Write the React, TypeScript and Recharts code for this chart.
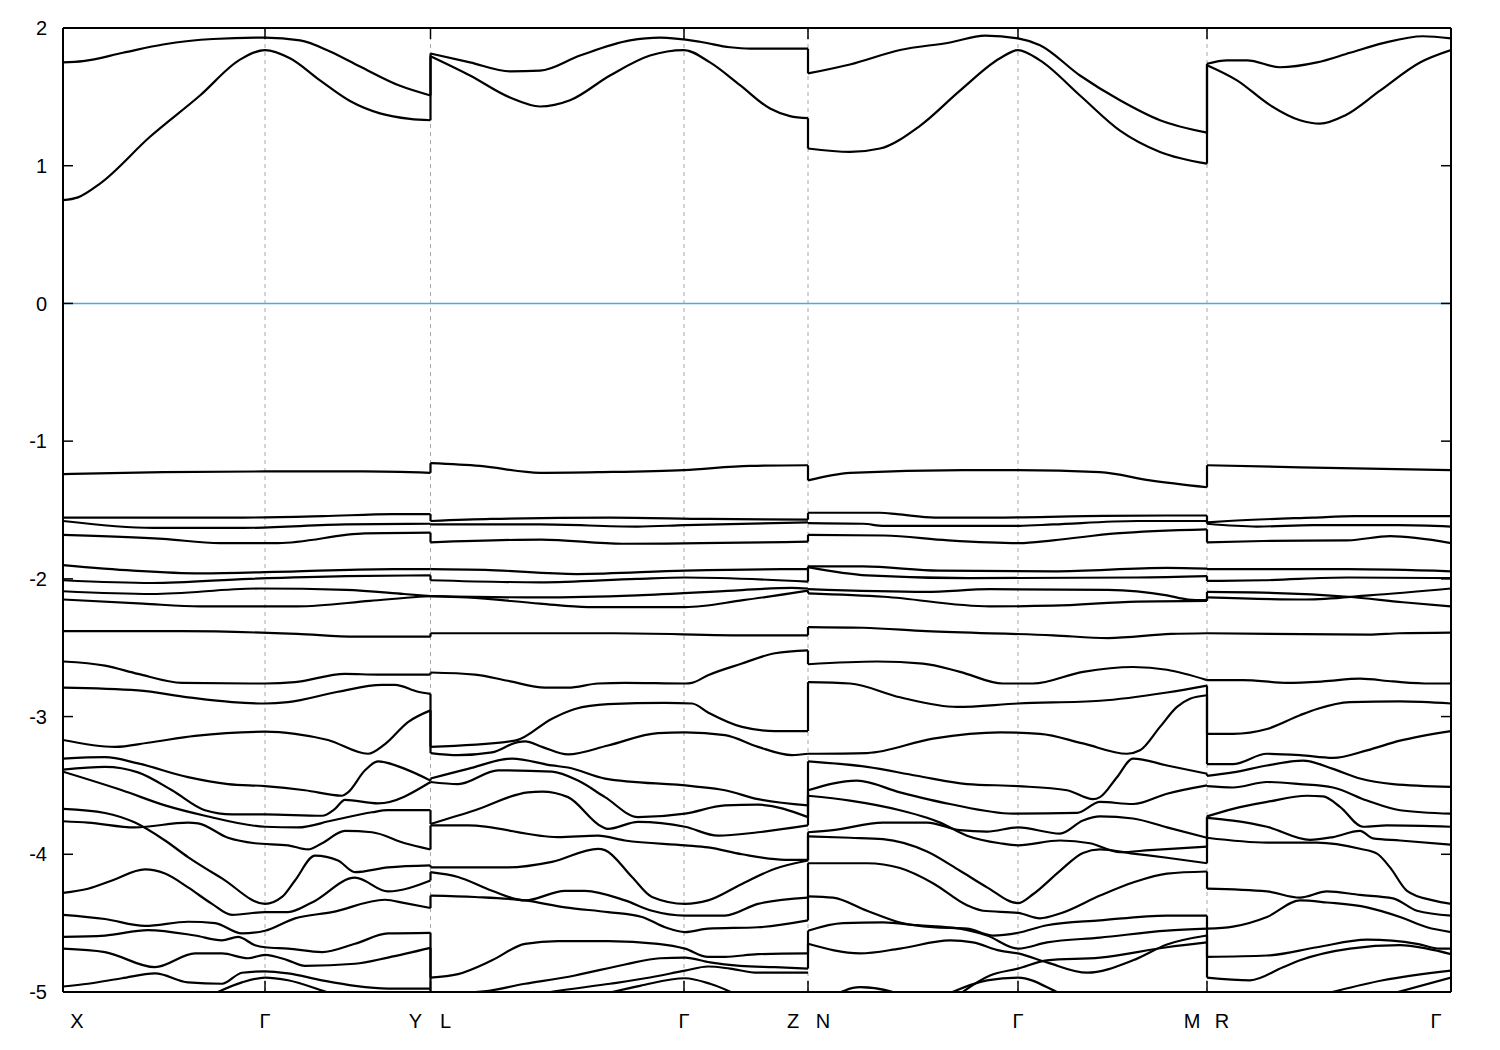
import React from "react";
import { LineChart, Line, XAxis, YAxis, ReferenceLine } from "recharts";

type Pt = [number, number];

// high-symmetry k-points (path distance) and their labels
const kPoints = [0, 202, 367.5, 621, 745, 955, 1144, 1388];
const kLabels = ["X", "Γ", "Y|L", "Γ", "Z|N", "Γ", "M|R", "Γ"];
const yTicks = [-5, -4, -3, -2, -1, 0, 1, 2];
const fermiLevel = 0;

// segment X - Γ - Y
const bandsXGY: Pt[][] = [
  [[0, 1.75], [20, 1.76], [60, 1.82], [100, 1.88], [150, 1.92], [202, 1.93], [237, 1.91], [267, 1.83], [297, 1.72], [337, 1.58], [367.5, 1.51]],
  [[0, 0.75], [15, 0.77], [37, 0.87], [87, 1.21], [137, 1.51], [177, 1.77], [202, 1.84], [227, 1.78], [257, 1.62], [287, 1.47], [317, 1.38], [347, 1.34], [367.5, 1.33]],
  [[0, -1.24], [100, -1.225], [202, -1.22], [300, -1.22], [367.5, -1.23]],
  [[0, -1.555], [180, -1.555], [260, -1.545], [330, -1.53], [367.5, -1.53]],
  [[0, -1.58], [90, -1.63], [180, -1.63], [283, -1.605], [367.5, -1.6]],
  [[0, -1.68], [100, -1.71], [157, -1.74], [215, -1.74], [302, -1.67], [367.5, -1.665]],
  [[0, -1.9], [70, -1.94], [137, -1.96], [234, -1.945], [331, -1.93], [367.5, -1.93]],
  [[0, -2.01], [89, -2.03], [186, -2.0], [283, -1.98], [367.5, -1.975]],
  [[0, -2.09], [89, -2.11], [196, -2.07], [283, -2.08], [341, -2.11], [367.5, -2.125]],
  [[0, -2.15], [80, -2.18], [137, -2.2], [234, -2.2], [307, -2.16], [356, -2.13], [367.5, -2.125]],
  [[0, -2.38], [118, -2.38], [234, -2.4], [293, -2.42], [367.5, -2.42]],
  [[0, -2.6], [42, -2.63], [75, -2.69], [119, -2.755], [202, -2.76], [232, -2.75], [282, -2.69], [315, -2.695], [367.5, -2.695]],
  [[0, -2.79], [75, -2.81], [125, -2.86], [169, -2.895], [202, -2.905], [225, -2.895], [275, -2.82], [319, -2.77], [332, -2.77], [355, -2.82], [367.5, -2.835]],
  [[0, -3.17], [52, -3.22], [85, -3.19], [132, -3.14], [202, -3.11], [232, -3.125], [265, -3.17], [305, -3.27], [322, -3.2], [345, -3.04], [367.5, -2.955]],
  [[0, -3.305], [42, -3.295], [75, -3.34], [125, -3.44], [165, -3.49], [202, -3.505], [242, -3.535], [279, -3.575], [285, -3.55], [302, -3.39], [315, -3.325], [342, -3.38], [367.5, -3.465]],
  [[0, -3.385], [42, -3.365], [75, -3.405], [109, -3.535], [142, -3.68], [169, -3.71], [202, -3.71], [259, -3.72], [272, -3.67], [282, -3.605], [315, -3.63], [367.5, -3.475]],
  [[0, -3.4], [59, -3.535], [102, -3.645], [142, -3.72], [202, -3.8], [235, -3.805], [269, -3.755], [309, -3.695], [325, -3.68], [367.5, -3.68]],
  [[0, -3.67], [42, -3.7], [72, -3.77], [102, -3.9], [125, -4.02], [159, -4.175], [202, -4.36], [219, -4.31], [232, -4.19], [252, -4.01], [275, -4.045], [292, -4.13], [325, -4.095], [367.5, -4.08]],
  [[0, -3.76], [25, -3.77], [72, -3.805], [125, -3.77], [135, -3.775], [165, -3.88], [192, -3.92], [225, -3.935], [245, -3.965], [259, -3.92], [282, -3.83], [309, -3.84], [342, -3.92], [367.5, -3.965]],
  [[0, -4.28], [25, -4.25], [49, -4.19], [82, -4.11], [102, -4.14], [125, -4.24], [149, -4.36], [169, -4.44], [202, -4.42], [225, -4.42], [249, -4.35], [292, -4.17], [325, -4.27], [367.5, -4.19]],
  [[0, -4.44], [42, -4.47], [82, -4.52], [125, -4.49], [152, -4.5], [179, -4.575], [202, -4.555], [232, -4.465], [269, -4.42], [322, -4.33], [342, -4.355], [367.5, -4.39]],
  [[0, -4.6], [42, -4.59], [85, -4.55], [132, -4.59], [159, -4.625], [175, -4.6], [192, -4.66], [202, -4.675], [225, -4.685], [259, -4.71], [292, -4.65], [325, -4.575], [367.5, -4.57]],
  [[0, -4.685], [42, -4.71], [92, -4.82], [132, -4.72], [159, -4.72], [185, -4.755], [202, -4.73], [225, -4.77], [242, -4.81], [292, -4.795], [325, -4.75], [367.5, -4.68]],
  [[0, -4.96], [25, -4.94], [59, -4.9], [92, -4.865], [125, -4.93], [159, -4.94], [179, -4.86], [202, -4.85], [225, -4.865], [259, -4.915], [292, -4.955], [325, -4.975], [367.5, -4.975]],
  [[149, -5.02], [179, -4.93], [202, -4.895], [225, -4.915], [259, -4.99], [275, -5.03]],
];

// segment L - Γ - Z
const bandsLGZ: Pt[][] = [
  [[367.5, 1.815], [407, 1.75], [447, 1.685], [477, 1.69], [517, 1.8], [567, 1.91], [597, 1.93], [637, 1.9], [667, 1.86], [687, 1.85], [745, 1.85]],
  [[367.5, 1.795], [407, 1.655], [447, 1.495], [477, 1.43], [507, 1.475], [547, 1.655], [587, 1.8], [621, 1.84], [647, 1.75], [677, 1.585], [707, 1.415], [727, 1.36], [745, 1.345]],
  [[367.5, -1.16], [417, -1.18], [477, -1.23], [537, -1.225], [621, -1.21], [687, -1.18], [745, -1.175]],
  [[367.5, -1.58], [428, -1.565], [547, -1.555], [645, -1.565], [745, -1.57]],
  [[367.5, -1.605], [477, -1.605], [574, -1.62], [622, -1.61], [745, -1.59]],
  [[367.5, -1.735], [478, -1.715], [560, -1.745], [745, -1.73]],
  [[367.5, -1.93], [422, -1.935], [514, -1.965], [622, -1.94], [719, -1.93], [745, -1.93]],
  [[367.5, -2.01], [477, -2.025], [574, -2.0], [622, -1.99], [745, -2.02]],
  [[367.5, -2.125], [404, -2.135], [477, -2.18], [525, -2.205], [622, -2.205], [680, -2.155], [745, -2.085]],
  [[367.5, -2.125], [477, -2.135], [574, -2.12], [671, -2.085], [729, -2.065], [745, -2.07]],
  [[367.5, -2.395], [550, -2.395], [690, -2.41], [745, -2.41]],
  [[367.5, -2.68], [412, -2.695], [445, -2.74], [482, -2.79], [505, -2.79], [535, -2.76], [562, -2.755], [622, -2.76], [629, -2.755], [645, -2.7], [679, -2.615], [712, -2.54], [745, -2.52]],
  [[367.5, -3.22], [452, -3.175], [489, -3.015], [512, -2.945], [545, -2.91], [602, -2.9], [629, -2.905], [645, -2.97], [679, -3.075], [712, -3.105], [745, -3.105]],
  [[367.5, -3.265], [395, -3.28], [429, -3.26], [455, -3.185], [462, -3.18], [479, -3.22], [505, -3.275], [545, -3.21], [595, -3.12], [622, -3.115], [662, -3.135], [695, -3.22], [729, -3.28], [745, -3.27]],
  [[367.5, -3.45], [405, -3.38], [449, -3.305], [489, -3.355], [505, -3.37], [542, -3.45], [629, -3.505], [662, -3.535], [695, -3.6], [745, -3.645]],
  [[367.5, -3.475], [395, -3.49], [435, -3.39], [489, -3.4], [515, -3.465], [542, -3.585], [575, -3.73], [622, -3.705], [662, -3.645], [695, -3.64], [745, -3.73]],
  [[367.5, -3.78], [412, -3.68], [465, -3.55], [479, -3.545], [505, -3.585], [539, -3.8], [545, -3.815], [575, -3.765], [622, -3.8], [655, -3.865], [695, -3.84], [745, -3.79]],
  [[367.5, -3.79], [405, -3.79], [495, -3.875], [535, -3.865], [562, -3.9], [622, -3.935], [645, -3.95], [679, -4.0], [722, -4.04], [745, -4.04]],
  [[367.5, -4.095], [445, -4.095], [489, -4.055], [535, -3.96], [542, -3.97], [569, -4.165], [589, -4.31], [622, -4.36], [645, -4.335], [679, -4.215], [712, -4.105], [745, -4.045]],
  [[367.5, -4.13], [395, -4.165], [429, -4.265], [462, -4.335], [502, -4.265], [522, -4.265], [562, -4.335], [589, -4.41], [622, -4.445], [662, -4.445], [695, -4.36], [745, -4.315]],
  [[367.5, -4.3], [412, -4.31], [462, -4.335], [502, -4.385], [545, -4.42], [579, -4.455], [602, -4.53], [622, -4.565], [645, -4.54], [695, -4.53], [745, -4.48]],
  [[367.5, -4.895], [395, -4.87], [429, -4.77], [462, -4.65], [495, -4.63], [545, -4.63], [595, -4.65], [622, -4.685], [645, -4.745], [662, -4.745], [695, -4.725], [745, -4.72]],
  [[367.5, -5.0], [412, -5.0], [462, -4.94], [512, -4.88], [562, -4.8], [597, -4.755], [622, -4.75], [647, -4.785], [677, -4.81], [712, -4.82], [745, -4.83]],
  [[457, -5.04], [497, -4.99], [547, -4.94], [587, -4.895], [622, -4.845], [645, -4.815], [667, -4.83], [695, -4.86], [745, -4.86]],
  [[527, -5.04], [577, -4.955], [622, -4.9], [647, -4.94], [677, -5.03]],
];

// segment N - Γ - M
const bandsNGM: Pt[][] = [
  [[745, 1.67], [787, 1.735], [837, 1.84], [887, 1.895], [922, 1.945], [955, 1.925], [977, 1.875], [1017, 1.655], [1057, 1.475], [1097, 1.33], [1144, 1.24]],
  [[745, 1.125], [787, 1.1], [817, 1.125], [857, 1.29], [897, 1.545], [937, 1.78], [955, 1.84], [977, 1.765], [1017, 1.51], [1057, 1.255], [1097, 1.1], [1144, 1.015]],
  [[745, -1.285], [787, -1.23], [900, -1.21], [955, -1.21], [1037, -1.225], [1087, -1.285], [1144, -1.335]],
  [[745, -1.52], [817, -1.52], [834, -1.53], [872, -1.555], [931, -1.555], [1022, -1.545], [1104, -1.54], [1144, -1.54]],
  [[745, -1.595], [800, -1.6], [821, -1.615], [956, -1.615], [990, -1.605], [1074, -1.58], [1144, -1.58]],
  [[745, -1.68], [821, -1.685], [885, -1.72], [956, -1.74], [990, -1.72], [1053, -1.67], [1144, -1.64]],
  [[745, -1.91], [800, -1.91], [876, -1.94], [990, -1.945], [1104, -1.92], [1144, -1.925]],
  [[745, -1.915], [804, -1.975], [906, -1.995], [1074, -1.99], [1144, -1.98]],
  [[745, -2.075], [863, -2.095], [927, -2.075], [1045, -2.08], [1104, -2.12], [1125, -2.15], [1144, -2.155]],
  [[745, -2.105], [821, -2.13], [927, -2.2], [990, -2.195], [1074, -2.165], [1144, -2.16]],
  [[745, -2.35], [800, -2.355], [863, -2.38], [990, -2.41], [1045, -2.43], [1108, -2.4], [1144, -2.395]],
  [[745, -2.62], [814, -2.6], [860, -2.615], [897, -2.675], [940, -2.76], [970, -2.76], [1020, -2.675], [1070, -2.64], [1104, -2.66], [1144, -2.735]],
  [[745, -2.75], [787, -2.76], [837, -2.86], [894, -2.93], [955, -2.905], [1037, -2.885], [1104, -2.825], [1144, -2.775]],
  [[745, -3.27], [804, -3.265], [870, -3.16], [937, -3.115], [977, -3.125], [1020, -3.195], [1064, -3.27], [1077, -3.245], [1097, -3.075], [1114, -2.93], [1127, -2.87], [1144, -2.845]],
  [[745, -3.325], [804, -3.365], [854, -3.43], [904, -3.49], [955, -3.505], [1004, -3.535], [1030, -3.6], [1037, -3.585], [1054, -3.44], [1070, -3.305], [1104, -3.355], [1144, -3.415]],
  [[745, -3.535], [794, -3.465], [837, -3.55], [887, -3.635], [950, -3.705], [1014, -3.7], [1037, -3.62], [1070, -3.635], [1104, -3.56], [1144, -3.5]],
  [[745, -3.575], [787, -3.61], [837, -3.68], [864, -3.735], [877, -3.77], [904, -3.865], [937, -3.92], [955, -3.935], [997, -3.9], [1027, -3.92], [1057, -3.985], [1087, -3.97], [1144, -3.945]],
  [[745, -3.84], [770, -3.825], [820, -3.77], [864, -3.77], [897, -3.825], [924, -3.835], [955, -3.805], [997, -3.85], [1020, -3.755], [1037, -3.725], [1070, -3.74], [1104, -3.805], [1144, -3.88]],
  [[745, -3.87], [787, -3.88], [820, -3.89], [864, -3.98], [897, -4.12], [924, -4.24], [955, -4.355], [970, -4.29], [997, -4.12], [1020, -3.99], [1037, -3.965], [1070, -3.995], [1104, -4.025], [1144, -4.065]],
  [[745, -4.065], [804, -4.065], [837, -4.1], [870, -4.21], [904, -4.37], [920, -4.41], [955, -4.425], [977, -4.465], [997, -4.43], [1037, -4.3], [1070, -4.205], [1104, -4.14], [1144, -4.125]],
  [[745, -4.305], [770, -4.315], [804, -4.41], [837, -4.495], [870, -4.53], [904, -4.54], [930, -4.59], [955, -4.57], [984, -4.515], [1037, -4.48], [1104, -4.445], [1144, -4.445]],
  [[745, -4.555], [780, -4.5], [820, -4.495], [854, -4.515], [897, -4.54], [924, -4.59], [955, -4.685], [984, -4.64], [1037, -4.605], [1104, -4.555], [1144, -4.54]],
  [[745, -4.65], [797, -4.72], [837, -4.685], [887, -4.625], [910, -4.64], [937, -4.7], [955, -4.72], [984, -4.785], [1024, -4.86], [1070, -4.77], [1104, -4.655], [1144, -4.59]],
  [[892, -5.04], [927, -4.88], [955, -4.83], [984, -4.77], [1037, -4.75], [1104, -4.675], [1144, -4.64]],
  [[767, -5.04], [797, -4.965], [830, -5.0], [842, -5.04]],
  [[877, -5.04], [924, -4.915], [955, -4.895], [997, -5.01], [1007, -5.04]],
];

// segment R - Γ
const bandsRG: Pt[][] = [
  [[1144, 1.74], [1164, 1.765], [1184, 1.765], [1217, 1.715], [1254, 1.75], [1287, 1.82], [1320, 1.89], [1360, 1.94], [1388, 1.925]],
  [[1144, 1.73], [1174, 1.62], [1207, 1.44], [1237, 1.33], [1257, 1.305], [1282, 1.365], [1317, 1.545], [1357, 1.75], [1388, 1.84]],
  [[1144, -1.175], [1237, -1.19], [1388, -1.21]],
  [[1144, -1.59], [1165, -1.58], [1250, -1.555], [1292, -1.545], [1388, -1.545]],
  [[1144, -1.6], [1194, -1.62], [1250, -1.61], [1335, -1.61], [1388, -1.62]],
  [[1144, -1.735], [1200, -1.725], [1285, -1.72], [1327, -1.69], [1388, -1.74]],
  [[1144, -1.93], [1285, -1.93], [1388, -1.945]],
  [[1144, -2.015], [1200, -2.01], [1285, -1.99], [1388, -1.995]],
  [[1144, -2.095], [1200, -2.1], [1285, -2.13], [1340, -2.17], [1388, -2.2]],
  [[1144, -2.135], [1243, -2.15], [1306, -2.12], [1388, -2.07]],
  [[1144, -2.395], [1306, -2.405], [1336, -2.395], [1388, -2.39]],
  [[1144, -2.735], [1180, -2.735], [1224, -2.755], [1260, -2.745], [1297, -2.725], [1330, -2.745], [1367, -2.76], [1388, -2.76]],
  [[1144, -3.125], [1170, -3.125], [1204, -3.09], [1237, -2.99], [1254, -2.945], [1287, -2.895], [1337, -2.89], [1388, -2.905]],
  [[1144, -3.345], [1170, -3.345], [1204, -3.27], [1237, -3.28], [1270, -3.3], [1304, -3.245], [1337, -3.175], [1388, -3.105]],
  [[1144, -3.43], [1170, -3.405], [1204, -3.355], [1240, -3.32], [1270, -3.38], [1297, -3.45], [1330, -3.49], [1388, -3.51]],
  [[1144, -3.505], [1170, -3.515], [1204, -3.475], [1237, -3.49], [1270, -3.515], [1304, -3.61], [1337, -3.68], [1388, -3.705]],
  [[1144, -3.725], [1170, -3.67], [1204, -3.62], [1244, -3.575], [1260, -3.58], [1277, -3.655], [1300, -3.8], [1324, -3.79], [1388, -3.8]],
  [[1144, -3.735], [1170, -3.755], [1204, -3.8], [1247, -3.895], [1270, -3.875], [1297, -3.83], [1310, -3.885], [1337, -3.9], [1388, -3.93]],
  [[1144, -3.88], [1204, -3.915], [1254, -3.915], [1297, -3.96], [1314, -3.995], [1327, -4.095], [1344, -4.265], [1370, -4.335], [1388, -4.36]],
  [[1144, -4.25], [1204, -4.27], [1237, -4.315], [1264, -4.27], [1297, -4.295], [1330, -4.32], [1354, -4.41], [1388, -4.445]],
  [[1144, -4.54], [1170, -4.525], [1204, -4.455], [1237, -4.335], [1264, -4.35], [1304, -4.385], [1337, -4.455], [1364, -4.53], [1388, -4.565]],
  [[1144, -4.745], [1204, -4.735], [1254, -4.675], [1304, -4.62], [1354, -4.65], [1377, -4.685], [1388, -4.685]],
  [[1144, -4.895], [1187, -4.915], [1220, -4.82], [1237, -4.77], [1287, -4.685], [1337, -4.66], [1364, -4.685], [1388, -4.725]],
  [[1264, -5.01], [1320, -4.915], [1388, -4.845]],
  [[1330, -5.01], [1388, -4.895]],
];

const segments = [bandsXGY, bandsLGZ, bandsNGM, bandsRG];

// vertical jumps at the path discontinuities (Y|L, Z|N, M|R): pair band ends by rank
function buildJumps(): Pt[][] {
  const out: Pt[][] = [];
  [2, 4, 6].forEach((ki, s) => {
    const b = kPoints[ki];
    const ends = segments[s].filter((l) => l[l.length - 1][0] === b).map((l) => l[l.length - 1][1]).sort((a, c) => c - a);
    const starts = segments[s + 1].filter((l) => l[0][0] === b).map((l) => l[0][1]).sort((a, c) => c - a);
    const n = Math.min(ends.length, starts.length);
    for (let i = 0; i < n; i++) out.push([[b, ends[i]], [b, starts[i]]]);
  });
  return out;
}

const series = [...segments.flat(), ...buildJumps()].map((line) => line.map(([x, y]) => ({ x, y })));

const W = 1492;
const H = 1034;
const LEFT_W = 55;
const RIGHT_W = 49;
const TOP_H = 20;
const BOTTOM_H = 50;
const PL = LEFT_W;
const PT = TOP_H;
const PR = W - RIGHT_W;
const PB = H - BOTTOM_H;
const FONT = "'Liberation Sans', Arial, Helvetica, sans-serif";
const FS = 20;

const BottomTick = (props: any) => {
  const { x, payload } = props;
  const idx = kPoints.indexOf(payload.value);
  const parts = (kLabels[idx] ?? "").split("|");
  let items: { t: string; dx: number }[];
  if (parts.length === 2) items = [{ t: parts[0], dx: -15 }, { t: parts[1], dx: 15 }];
  else items = [{ t: parts[0], dx: idx === 0 ? 14 : idx === kPoints.length - 1 ? -15 : 0 }];
  return (
    <g>
      <line x1={x} x2={x} y1={PB} y2={PB - 11} stroke="#000" strokeWidth={1.5} />
      {items.map((it, i) => (
        <text key={i} x={x + it.dx} y={PB + 36} textAnchor="middle" fontSize={FS} fontFamily={FONT} fill="#000">
          {it.t}
        </text>
      ))}
    </g>
  );
};

const TopTick = (props: any) => {
  const { x } = props;
  return <line x1={x} x2={x} y1={PT} y2={PT + 11} stroke="#000" strokeWidth={1.5} />;
};

const LeftTick = (props: any) => {
  const { y, payload } = props;
  return (
    <g>
      <line x1={PL} x2={PL + 10} y1={y} y2={y} stroke="#000" strokeWidth={1.5} />
      <text x={PL - 16} y={y} dy="0.36em" textAnchor="end" fontSize={FS} fontFamily={FONT} fill="#000">
        {String(payload.value)}
      </text>
    </g>
  );
};

const RightTick = (props: any) => {
  const { y } = props;
  return <line x1={PR - 10} x2={PR} y1={y} y2={y} stroke="#000" strokeWidth={1.5} />;
};

const axisLine = { stroke: "#000", strokeWidth: 2 };

export default function App() {
  return (
    <div style={{ width: W, height: H, background: "#fff" }}>
      <LineChart width={W} height={H} margin={{ top: 0, right: 0, bottom: 0, left: 0 }}>
        <XAxis
          dataKey="x"
          type="number"
          domain={[0, 1388]}
          ticks={kPoints}
          interval={0}
          allowDataOverflow
          height={BOTTOM_H}
          tickSize={0}
          tickMargin={0}
          tickLine={false}
          axisLine={axisLine}
          tick={<BottomTick />}
        />
        <XAxis
          xAxisId="top"
          orientation="top"
          dataKey="x"
          type="number"
          domain={[0, 1388]}
          ticks={kPoints}
          interval={0}
          allowDataOverflow
          height={TOP_H}
          tickSize={0}
          tickMargin={0}
          tickLine={false}
          axisLine={axisLine}
          tick={<TopTick />}
        />
        <YAxis
          type="number"
          domain={[-5, 2]}
          ticks={yTicks}
          interval={0}
          allowDataOverflow
          width={LEFT_W}
          tickSize={0}
          tickMargin={0}
          tickLine={false}
          axisLine={axisLine}
          tick={<LeftTick />}
        />
        <YAxis
          yAxisId="right"
          orientation="right"
          type="number"
          domain={[-5, 2]}
          ticks={yTicks}
          interval={0}
          allowDataOverflow
          width={RIGHT_W}
          tickSize={0}
          tickMargin={0}
          tickLine={false}
          axisLine={axisLine}
          tick={<RightTick />}
        />
        {kPoints.slice(1, -1).map((p) => (
          <ReferenceLine key={"k" + p} x={p} stroke="#a8a8a8" strokeWidth={1} strokeDasharray="4 4" />
        ))}
        <ReferenceLine y={fermiLevel} stroke="#4fa8e0" strokeWidth={1.6} />
        {series.map((d, i) => (
          <Line
            key={i}
            data={d}
            dataKey="y"
            type="monotoneX"
            stroke="#000"
            strokeWidth={2.2}
            dot={false}
            activeDot={false}
            legendType="none"
            isAnimationActive={false}
          />
        ))}
      </LineChart>
    </div>
  );
}
